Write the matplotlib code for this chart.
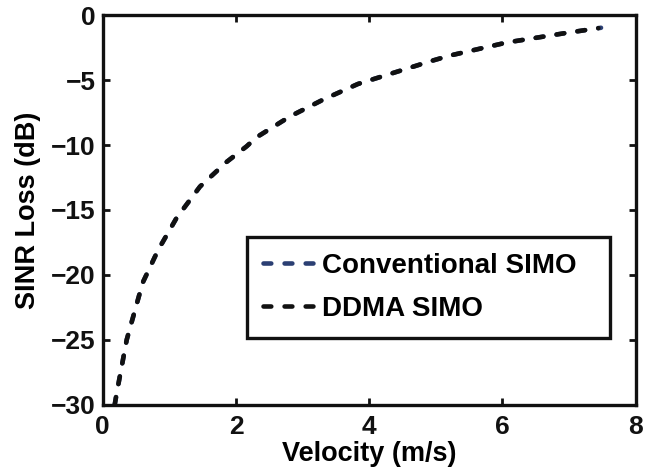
import matplotlib
matplotlib.use("Agg")
import matplotlib.pyplot as plt

plt.rcParams['font.family'] = ['Liberation Sans', 'DejaVu Sans']
plt.rcParams['font.weight'] = 'bold'

# SINR loss versus target velocity
velocity = [0.18, 0.21, 0.36, 0.60, 0.83, 1.11, 1.46, 1.86, 2.16, 2.31, 2.81,
            3.31, 3.83, 4.39, 4.95, 5.22, 6.07, 6.92, 7.44]
ddma_loss = [-30.0, -29.1, -25.0, -20.6, -18.1, -15.6, -13.2, -11.3, -10.1, -9.4,
             -7.8, -6.5, -5.3, -4.4, -3.5, -3.1, -2.1, -1.4, -1.0]

conv_velocity = velocity + [7.48]
conv_loss = ddma_loss + [-0.97]

series_labels = ["Conventional SIMO", "DDMA SIMO"]
x_ticks = [0, 2, 4, 6, 8]
y_ticks = [-30, -25, -20, -15, -10, -5, 0]

fig = plt.figure(figsize=(6.46, 4.74), dpi=100)
ax = fig.add_axes([0.159, 0.146, 0.825, 0.822])

lw = 3.3
dash = (1.7, 2.9)
ax.plot(conv_velocity, conv_loss, color='#2b3f73', lw=lw, dashes=dash,
        dash_capstyle='round', label=series_labels[0])
ax.plot(velocity, ddma_loss, color='#111111', lw=lw, dashes=dash,
        dash_capstyle='round', label=series_labels[1])

ax.set_xlim(0, 8)
ax.set_ylim(-30, 0)
ax.set_xticks(x_ticks)
ax.set_yticks(y_ticks)
ax.set_xticklabels([str(t) for t in x_ticks])
ax.set_yticklabels([str(t).replace('-', '\u2212') for t in y_ticks])

for s in ax.spines.values():
    s.set_linewidth(2.4)
    s.set_color('#111111')
ax.tick_params(direction='in', length=5, width=2, top=True, right=True,
               labelsize=19, colors='#111111')
ax.tick_params(axis='x', pad=7)
ax.tick_params(axis='y', pad=5)

ax.set_xlabel("Velocity (m/s)", fontsize=19.5, fontweight='bold', labelpad=2)
ax.set_ylabel("SINR Loss (dB)", fontsize=19.5, fontweight='bold', labelpad=7)

leg = ax.legend(loc='lower left', bbox_to_anchor=(0.27, 0.172, 0.681, 0.26),
                mode='expand', borderaxespad=0,
                fontsize=20, handlelength=1.9, handletextpad=0.25,
                borderpad=0.58, labelspacing=0.6, frameon=True, fancybox=False,
                framealpha=1)
leg.get_frame().set_edgecolor('#111111')
leg.get_frame().set_linewidth(2.4)
for t in leg.get_texts():
    t.set_fontweight('bold')

fig.savefig("out.png", dpi=100, facecolor='white')
